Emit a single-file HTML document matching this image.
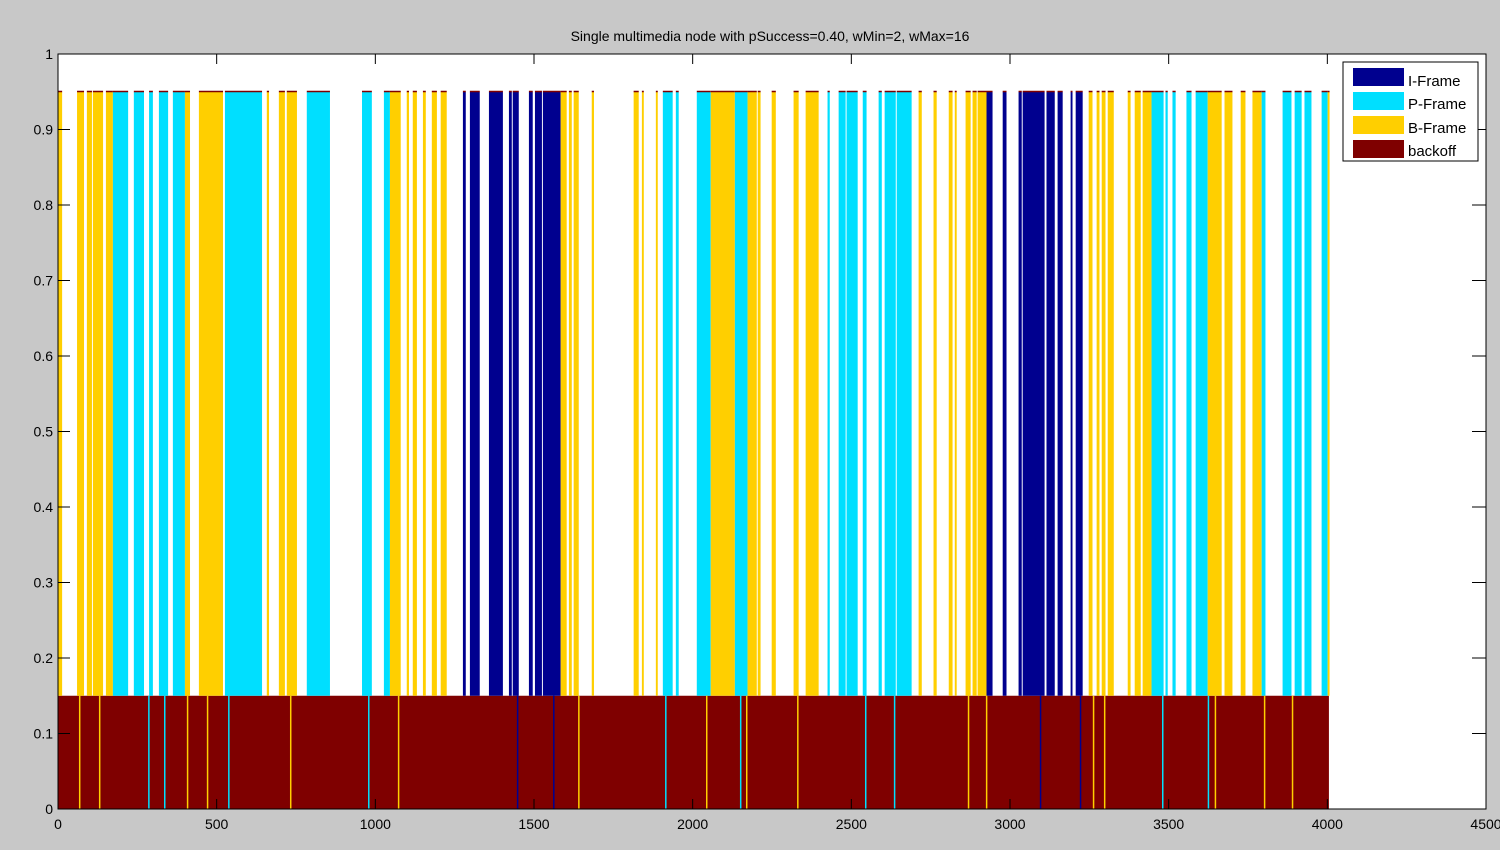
<!DOCTYPE html>
<html><head><meta charset="utf-8"><style>
html,body{margin:0;padding:0;background:#c8c8c8;width:1500px;height:850px;overflow:hidden}
svg{display:block;font-family:"Liberation Sans",sans-serif}
</style></head><body>
<svg id="chart" width="1500" height="850" xmlns="http://www.w3.org/2000/svg">
<rect x="0" y="0" width="1500" height="850" fill="#c8c8c8"/>
<rect x="58" y="54" width="1428" height="755" fill="#fff"/>
<g id="bars"></g>
<g id="axes"></g>
<text x="770" y="41" text-anchor="middle" font-size="14" fill="#000">Single multimedia node with pSuccess=0.40, wMin=2, wMax=16</text>
<g>
<rect x="1343" y="62" width="135" height="99" fill="#fff" stroke="#000" stroke-width="1"/>
<g><rect x="1353" y="68" width="51" height="18" fill="#00008f"/><text x="1408" y="86" font-size="15">I-Frame</text></g>
<g><rect x="1353" y="92" width="51" height="18" fill="#00dfff"/><text x="1408" y="109" font-size="15">P-Frame</text></g>
<g><rect x="1353" y="116" width="51" height="18" fill="#ffcf00"/><text x="1408" y="133" font-size="15">B-Frame</text></g>
<g><rect x="1353" y="140" width="51" height="18" fill="#7f0000"/><text x="1408" y="156" font-size="15">backoff</text></g>
</g>
</svg>
<script>
// data: [start, end, type]  type: I, P, B
const segStart = [0,60,91,110,151,173,239,287,318,362,400,444,526,658,696,721,784,958,1027,1046,1099,1118,1150,1178,1206,1276,1298,1358,1421,1433,1484,1503,1528,1584,1610,1625,1682,1814,1840,1884,1906,1947,2013,2057,2133,2173,2205,2249,2318,2356,2425,2460,2485,2536,2586,2605,2643,2712,2759,2807,2826,2860,2882,2898,2926,2977,3027,3040,3115,3150,3191,3207,3248,3273,3289,3308,3371,3393,3418,3446,3490,3512,3556,3585,3623,3676,3727,3764,3793,3859,3897,3928,3982,4001];
const segEnd   = [13,82,107,142,173,221,271,299,347,400,416,520,643,665,715,753,857,989,1046,1080,1106,1131,1159,1194,1225,1285,1329,1402,1430,1452,1496,1525,1584,1603,1619,1641,1689,1830,1846,1890,1937,1956,2057,2133,2173,2202,2214,2262,2334,2397,2432,2482,2520,2548,2596,2640,2690,2722,2769,2819,2832,2876,2895,2926,2945,2989,3037,3109,3141,3166,3197,3229,3260,3282,3301,3327,3380,3412,3446,3484,3497,3522,3572,3623,3667,3701,3742,3793,3805,3887,3919,3950,4001,4007];
const segType  = ["B","B","B","B","B","P","P","P","P","P","B","B","P","B","B","B","P","P","P","B","B","B","B","B","B","I","I","I","I","I","I","I","I","B","B","B","B","B","B","B","P","P","P","B","P","B","B","B","B","B","P","P","P","P","P","P","P","B","B","B","B","B","B","B","I","I","I","I","I","I","I","I","B","B","B","B","B","B","B","P","P","P","P","P","B","B","B","B","P","P","P","P","P","B"];
const spikeX    = [66,129,284,334,406,469,536,731,977,1071,1446,1560,1639,1913,2042,2149,2168,2329,2543,2634,2867,2924,3094,3220,3261,3296,3479,3623,3645,3800,3888];
const spikeType = ["B","B","P","P","B","B","P","B","P","B","I","I","B","P","B","P","B","B","P","P","B","B","I","I","B","B","P","P","B","B","B"];
const backoffStart = 0, backoffEnd = 4005, backoffLevel = 0.15, frameLevel = 0.95;
const xTicks = [0,500,1000,1500,2000,2500,3000,3500,4000,4500];
const yTicks = [0,0.1,0.2,0.3,0.4,0.5,0.6,0.7,0.8,0.9,1];

const X0=58,X1=1486,Y0=809,Y1=54;
const sx=v=>X0+(v/4500)*(X1-X0);
const sy=v=>Y0-(v)*(Y0-Y1);
const col={I:"#00008f",P:"#00dfff",B:"#ffcf00"};
const NS="http://www.w3.org/2000/svg";
const bars=document.getElementById('bars');
const axes=document.getElementById('axes');
function mk(tag,attrs,parent){const e=document.createElementNS(NS,tag);for(const k in attrs)e.setAttribute(k,attrs[k]);parent.appendChild(e);return e;}

const bo=mk('rect',{x:sx(backoffStart),y:sy(backoffLevel),width:sx(backoffEnd)-sx(backoffStart),height:sy(0)-sy(backoffLevel),fill:"#7f0000"},bars);


for(let i=0;i<segStart.length;i++){
  const x=sx(segStart[i]),w=Math.max(1,sx(segEnd[i])-sx(segStart[i]));
  const r=mk('rect',{x:x,y:sy(frameLevel),width:w,height:sy(backoffLevel)-sy(frameLevel),fill:col[segType[i]]},bars);
  
  
  const t=mk('rect',{x:x,y:sy(frameLevel)-1,width:w,height:1.5,fill:"#7f0000"},bars);
  
  
}
for(let i=0;i<spikeX.length;i++){
  const s=mk('rect',{x:sx(spikeX[i]),y:sy(backoffLevel),width:1.5,height:sy(0)-sy(backoffLevel),fill:col[spikeType[i]]},bars);
  
  
}
mk('rect',{x:X0,y:Y1,width:X1-X0,height:Y0-Y1,fill:"none",stroke:"#000","stroke-width":1},axes);
xTicks.forEach(v=>{
  const x=sx(v);
  mk('line',{x1:x,y1:Y0,x2:x,y2:Y0-10,stroke:"#000"},axes);
  mk('line',{x1:x,y1:Y1,x2:x,y2:Y1+10,stroke:"#000"},axes);
  const t=mk('text',{x:x,y:Y0+20,"text-anchor":"middle","font-size":14,fill:"#000"},axes);
  t.textContent=v;
  
  
});
yTicks.forEach(v=>{
  const y=sy(v);
  mk('line',{x1:X0,y1:y,x2:X0+12,y2:y,stroke:"#000"},axes);
  mk('line',{x1:X1,y1:y,x2:X1-14,y2:y,stroke:"#000"},axes);
  const t=mk('text',{x:X0-5,y:y+5,"text-anchor":"end","font-size":14,fill:"#000"},axes);
  t.textContent=v;
  
  
});
</script>
</body></html>
